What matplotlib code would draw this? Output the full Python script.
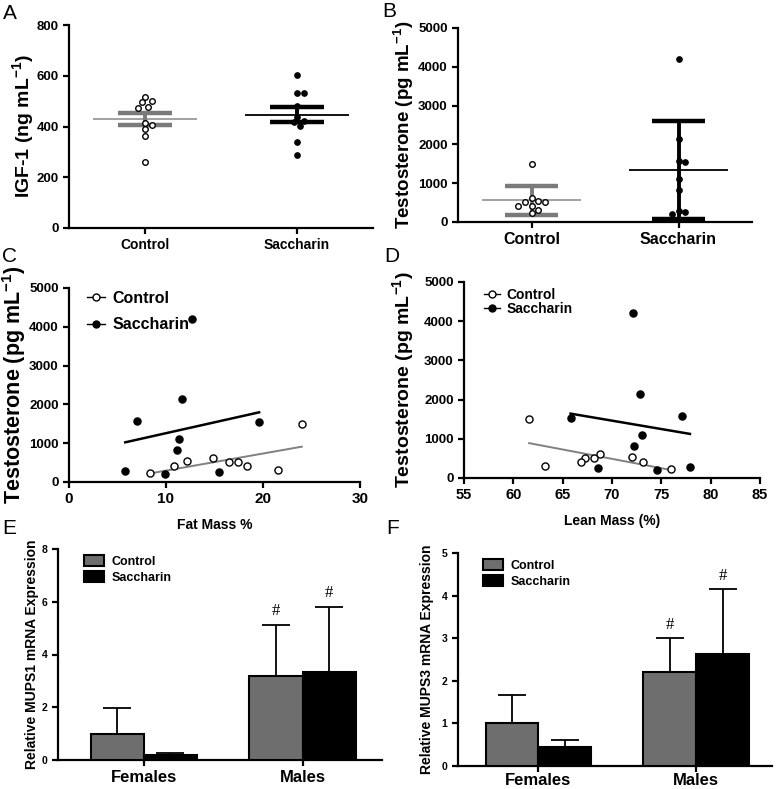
import numpy as np
import matplotlib
matplotlib.use('Agg')
import matplotlib.pyplot as plt
from matplotlib.lines import Line2D
from matplotlib.patches import Patch

plt.rcParams['font.family'] = ['Liberation Sans', 'DejaVu Sans']
plt.rcParams['font.weight'] = 'bold'
plt.rcParams['mathtext.fontset'] = 'custom'
plt.rcParams['mathtext.rm'] = 'Liberation Sans:bold'
plt.rcParams['mathtext.bf'] = 'Liberation Sans:bold'
plt.rcParams['mathtext.it'] = 'Liberation Sans:bold'
plt.rcParams['mathtext.default'] = 'regular'

# ---------------- data ----------------
groups = ['Control', 'Saccharin']
igf_control = [515, 502, 495, 478, 472, 414, 407, 389, 363, 261]
igf_saccharin = [601, 533, 533, 482, 439, 423, 419, 403, 340, 286]

testo_control = [1500, 610, 540, 505, 505, 405, 400, 315, 235]
testo_saccharin = [4200, 2150, 1580, 1540, 1100, 815, 285, 250, 215]
fat_control = [24.0, 14.8, 12.2, 16.5, 17.4, 10.8, 18.4, 21.5, 8.3]
fat_saccharin = [12.7, 11.6, 7.0, 19.6, 11.3, 11.1, 5.8, 15.5, 9.9]
lean_control = [61.6, 68.8, 72.0, 67.3, 68.2, 66.9, 73.1, 63.2, 76.0]
lean_saccharin = [72.1, 72.8, 77.1, 65.8, 73.0, 72.2, 77.9, 68.6, 74.6]

sexes = ['Females', 'Males']
mups1_control = [1.0, 3.2]
mups1_control_err = [0.97, 1.93]
mups1_saccharin = [0.18, 3.35]
mups1_saccharin_err = [0.10, 2.45]
mups3_control = [1.0, 2.2]
mups3_control_err = [0.66, 0.80]
mups3_saccharin = [0.44, 2.62]
mups3_saccharin_err = [0.18, 1.53]
sig_marks = ['', '#']

# ---------------- layout ----------------
W, H = 777, 789
fig = plt.figure(figsize=(W / 100, H / 100), dpi=100)


def add_ax(left, right, top, bottom):
    return fig.add_axes([left / W, (H - bottom) / H, (right - left) / W, (bottom - top) / H])


axA = add_ax(69, 373, 25, 228)
axB = add_ax(458, 752, 28, 222)
axC = add_ax(69, 360, 288, 482)
axD = add_ax(464, 760, 282, 478)
axE = add_ax(58, 382, 549, 760)
axF = add_ax(458, 772, 553, 766)

GRAY = '#7a7a7a'
LGRAY = '#9a9a9a'
BARGRAY = '#6e6e6e'


def style(ax, lw=1.6):
    for s in ['top', 'right']:
        ax.spines[s].set_visible(False)
    for s in ['left', 'bottom']:
        ax.spines[s].set_linewidth(lw)
    ax.tick_params(direction='out', length=4, width=lw)
    for lab in ax.get_xticklabels() + ax.get_yticklabels():
        lab.set_fontweight('bold')


def swarm(values, y_px_per_unit, step_px=3.3, diam_px=6.0):
    order = np.argsort(values)[::-1]
    placed = []
    offs = np.zeros(len(values))
    cands = [0]
    for i in range(1, 20):
        cands += [i, -i]
    for idx in order:
        y = values[idx] * y_px_per_unit
        for c in cands:
            x = c * step_px
            if all((x - px) ** 2 + (y - py) ** 2 >= diam_px ** 2 for px, py in placed):
                placed.append((x, y))
                offs[idx] = x
                break
    return offs


def dot_panel(ax, data, ypx, xpx, err_kind, ylim, yticks, ylabel, ylab_x, ylab_fs, xt_fs):
    colors = [GRAY, 'black']
    mean_colors = [LGRAY, 'black']
    for i, vals in enumerate(data):
        vals = np.asarray(vals, float)
        offs = swarm(vals, ypx) / xpx
        m = vals.mean()
        sd = vals.std(ddof=1)
        e = sd / np.sqrt(len(vals)) if err_kind == 'sem' else sd
        ax.hlines(m, i - 0.34, i + 0.34, color=mean_colors[i], lw=1.3, zorder=2)
        ax.vlines(i, m - e, m + e, color=colors[i], lw=2.8, zorder=2)
        ax.hlines([m - e, m + e], i - 0.18, i + 0.18, color=colors[i], lw=3.2, zorder=2)
        if i == 0:
            ax.scatter(i + offs, vals, s=16, facecolor='white', edgecolor='black', lw=1.0, zorder=3)
        else:
            ax.scatter(i + offs, vals, s=16, facecolor='black', edgecolor='black', lw=0.8, zorder=3)
    ax.set_xlim(-0.5, 1.5)
    ax.set_ylim(*ylim)
    ax.set_yticks(yticks)
    ax.set_xticks([0, 1])
    ax.set_xticklabels(groups, fontsize=xt_fs, fontweight='bold')
    ax.tick_params(axis='y', labelsize=9.5)
    ax.set_ylabel(ylabel, fontsize=ylab_fs, fontweight='bold')
    ax.yaxis.set_label_coords(ylab_x, 0.5)
    style(ax)


# Panel A
dot_panel(axA, [igf_control, igf_saccharin], 203 / 800, 152, 'sem', (0, 800),
          [0, 200, 400, 600, 800], r'IGF-1 (ng mL$^{-1}$)', -0.109, 14, 10)
# Panel B
dot_panel(axB, [testo_control, testo_saccharin], 194 / 5000, 147, 'sd', (0, 5000),
          [0, 1000, 2000, 3000, 4000, 5000], r'Testosterone (pg mL$^{-1}$)', -0.143, 13.5, 11.5)


def scatter_panel(ax, xc, xs, xlim, xticks, xlabel, ylab_x, ylab_fs, xt_fs, leg_fs, leg_space, leg_anchor):
    tc = np.asarray(testo_control, float)
    ts = np.asarray(testo_saccharin, float)
    xc = np.asarray(xc, float)
    xs = np.asarray(xs, float)
    for xv, yv, col, lw in [(xc, tc, '#808080', 1.4), (xs, ts, 'black', 1.8)]:
        p = np.polyfit(xv, yv, 1)
        xx = np.array([xv.min(), xv.max()])
        ax.plot(xx, np.polyval(p, xx), color=col, lw=lw, zorder=2)
    ax.scatter(xc, tc, s=26, facecolor='white', edgecolor='black', lw=1.0, zorder=3)
    ax.scatter(xs, ts, s=26, facecolor='black', edgecolor='black', lw=1.0, zorder=3)
    ax.set_xlim(*xlim)
    ax.set_xticks(xticks)
    ax.set_ylim(0, 5000)
    ax.set_yticks([0, 1000, 2000, 3000, 4000, 5000])
    ax.tick_params(axis='y', labelsize=9.5)
    ax.tick_params(axis='x', labelsize=xt_fs)
    ax.set_xlabel(xlabel, fontsize=10, fontweight='bold', labelpad=8)
    ax.set_ylabel(r'Testosterone (pg mL$^{-1}$)', fontsize=ylab_fs, fontweight='bold')
    ax.yaxis.set_label_coords(ylab_x, 0.5)
    handles = [Line2D([0], [0], color='black', lw=1.0, marker='o', ms=5, mfc='white', mec='black'),
               Line2D([0], [0], color='black', lw=1.0, marker='o', ms=5, mfc='black', mec='black')]
    ax.legend(handles, groups, loc='upper left', bbox_to_anchor=leg_anchor, frameon=False,
              handlelength=1.1, handletextpad=0.5, labelspacing=leg_space,
              borderaxespad=0, prop={'weight': 'bold', 'size': leg_fs})
    style(ax)


scatter_panel(axC, fat_control, fat_saccharin, (0, 30), [0, 10, 20, 30], 'Fat Mass %',
              -0.141, 15.5, 11, 11.5, 0.75, (0.04, 1.02))
scatter_panel(axD, lean_control, lean_saccharin, (55, 85), [55, 60, 65, 70, 75, 80, 85],
              'Lean Mass (%)', -0.162, 14, 10.5, 10, 0.05, (0.05, 1.0))


def bar_panel(ax, ctrl, ctrl_err, sac, sac_err, ylim, yticks, ylabel, ylab_x, xlim, xpad):
    x = np.arange(len(sexes))
    w = 0.335
    ax.bar(x - w / 2, ctrl, w, color=BARGRAY, edgecolor='black', lw=1.5, zorder=3)
    ax.bar(x + w / 2, sac, w, color='black', edgecolor='black', lw=1.5, zorder=3)
    for xs_, v, e in [(x - w / 2, ctrl, ctrl_err), (x + w / 2, sac, sac_err)]:
        ax.errorbar(xs_, v, yerr=[np.zeros(len(v)), e], fmt='none', ecolor='black',
                    elinewidth=1.3, capsize=10, capthick=1.3, zorder=2)
        for xi, vi, ei, mk in zip(xs_, v, e, sig_marks):
            if mk:
                ax.annotate(mk, (xi, vi + ei), xytext=(0, 4), textcoords='offset points',
                            ha='center', va='bottom', fontsize=12, fontweight='normal',
                            family=['Liberation Serif', 'DejaVu Serif'])
    ax.set_xlim(*xlim)
    ax.set_ylim(*ylim)
    ax.set_yticks(yticks)
    ax.set_xticks(x)
    ax.set_xticklabels(sexes, fontsize=12, fontweight='bold')
    ax.tick_params(axis='y', labelsize=7.5)
    ax.set_ylabel(ylabel, fontsize=10, fontweight='bold')
    ax.yaxis.set_label_coords(ylab_x, 0.5)
    handles = [Patch(facecolor=BARGRAY, edgecolor='black', lw=1.5),
               Patch(facecolor='black', edgecolor='black', lw=1.5)]
    ax.legend(handles, groups, loc='upper left', bbox_to_anchor=(0.065, 0.995), frameon=False,
              handlelength=1.6, handleheight=1.0, handletextpad=0.6, labelspacing=0.25,
              borderaxespad=0, prop={'weight': 'bold', 'size': 9})
    style(ax)
    ax.tick_params(axis='x', pad=xpad)


bar_panel(axE, mups1_control, mups1_control_err, mups1_saccharin, mups1_saccharin_err,
          (0, 8), [0, 2, 4, 6, 8], 'Relative MUPS1 mRNA Expression', -0.059, (-0.54, 1.5), 3)
bar_panel(axF, mups3_control, mups3_control_err, mups3_saccharin, mups3_saccharin_err,
          (0, 5), [0, 1, 2, 3, 4, 5], 'Relative MUPS3 mRNA Expression', -0.076, (-0.51, 1.48), 1)

# panel letters
for letter, (px, py) in zip('ABCDEF', [(3, 4), (382, 2), (2, 247), (384, 247), (2, 519), (386, 519)]):
    fig.text(px / W, 1 - py / H, letter, fontsize=15, fontweight='normal', va='top', ha='left')

fig.savefig('out.png', dpi=100)
